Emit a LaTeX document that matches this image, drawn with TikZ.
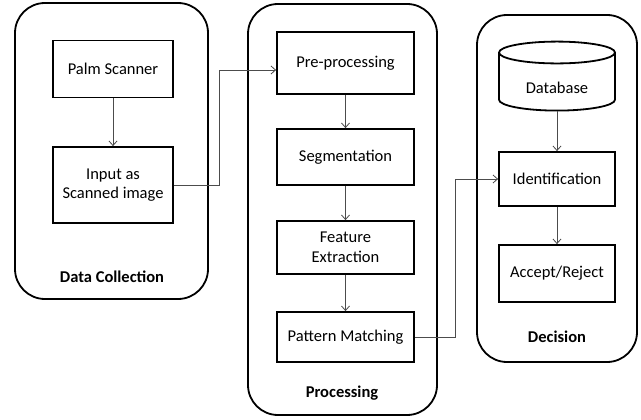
\documentclass[tikz,border=0pt]{standalone}
\usepackage{fontspec}
\setmainfont{Carlito}
\usetikzlibrary{arrows.meta,shapes.geometric}
\begin{document}
\begin{tikzpicture}[x=1pt,y=-1pt,
  font=\fontsize{16.5}{19.5}\selectfont,
  group/.style={draw=black,line width=1.8pt,rounded corners=30pt},
  stepbox/.style={draw=black,line width=1.8pt,align=center,inner sep=0pt},
  dbstyle/.style={draw=black,line width=1.8pt,cylinder,shape border rotate=90,
    aspect=0.35,inner sep=0pt,align=center},
  grouplabel/.style={font=\fontsize{16.5}{19.5}\selectfont\bfseries},
  conn/.style={draw=black!70,line width=0.8pt,
    -{Straight Barb[length=4.5pt,width=8pt,line width=0.8pt]}},
  link/.style={draw=black!70,line width=0.8pt}]
\useasboundingbox (0,0) rectangle (641,420);

% stage containers
\draw[group] (15,3) rectangle (208,299);
\draw[group] (248,4) rectangle (437,415);
\draw[group] (477,15) rectangle (637,362);

\node[grouplabel] (lcol) at (112,277) {Data Collection};
\node[grouplabel] (lproc) at (342,393) {Processing};
\node[grouplabel] (ldec) at (557,337) {Decision};

% data collection
\node[stepbox,minimum width=120pt,minimum height=57pt] (palm) at (113,69) {Palm Scanner};
\node[stepbox,minimum width=120pt,minimum height=76pt] (inp) at (113,185) {Input as\\Scanned image};

% processing
\node[stepbox,minimum width=137pt,minimum height=62pt] (pre) at (345.5,63) {Pre-processing};
\node[stepbox,minimum width=137pt,minimum height=56pt] (seg) at (345.5,157) {Segmentation};
\node[stepbox,minimum width=137pt,minimum height=53pt] (feat) at (345.5,247.5) {Feature\\Extraction};
\node[stepbox,minimum width=137pt,minimum height=50pt] (pat) at (345.5,337) {Pattern Matching};

% decision: a tall text box lowers the database caption below the lid
\node[dbstyle,minimum width=116pt,minimum height=69pt,
  text height=23.6pt,text depth=0pt] (db) at (557,82) {Database};
\node[stepbox,minimum width=116pt,minimum height=54pt] (ident) at (557,179) {Identification};
\node[stepbox,minimum width=116pt,minimum height=57pt] (acc) at (557,273.5) {Accept/Reject};

% flow inside the stages
\draw[conn] (palm.south) -- (inp.north);
\draw[conn] (pre.south) -- (seg.north);
\draw[conn] (seg.south) -- (feat.north);
\draw[conn] (feat.south) -- (pat.north);
\draw[conn] (db.bottom) -- (ident.north);
\draw[conn] (ident.south) -- (acc.north);

% flow between the stages
\coordinate (c1) at (219,185);
\coordinate (c2) at (455,337);
\draw[conn] (inp.east) -- (c1) |- ([yshift=-7pt]pre.west);
\draw[conn] (pat.east) -- (c2) |- (ident.west);
\end{tikzpicture}
\end{document}
